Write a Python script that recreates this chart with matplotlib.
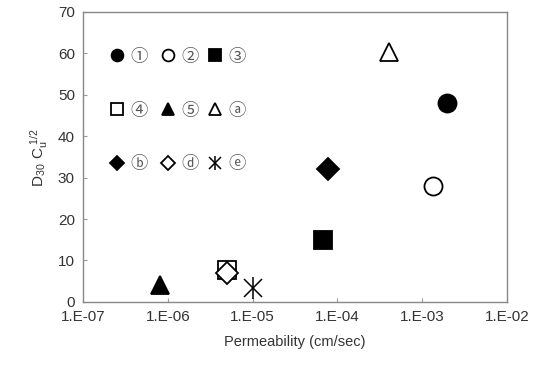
import numpy as np
import matplotlib
matplotlib.use('Agg', force=True)
import matplotlib.pyplot as plt

plt.rcParams['font.family'] = ['Liberation Sans', 'DejaVu Sans']

# permeability (cm/sec) and D30*Cu^(1/2)
labels = ['①', '②', '③', '④', '⑤', 'ⓐ', 'ⓑ', 'ⓓ', 'ⓔ']
perm = [1.95e-3, 1.35e-3, 6.8e-5, 5.0e-6, 8.1e-7, 4.0e-4, 7.8e-5, 5.0e-6, 1.0e-5]
d30cu = [48.0, 28.0, 15.0, 7.7, 4.0, 60.4, 32.1, 7.0, 3.4]
markers = ['o', 'o', 's', 's', '^', '^', 'D', 'D', 'ast']
filled = [True, False, True, False, True, False, True, False, True]

xticks = [1e-7, 1e-6, 1e-5, 1e-4, 1e-3, 1e-2]
xticklabels = ['1.E-07', '1.E-06', '1.E-05', '1.E-04', '1.E-03', '1.E-02']
yticks = [0, 10, 20, 30, 40, 50, 60, 70]

# key positions in the plot (data coords): rows of 3
key_x = [2.5e-7, 1.0e-6, 3.6e-6]
key_y = [59.5, 46.6, 33.6]

fig = plt.figure(figsize=(5.44, 3.74), dpi=100)
ax = fig.add_axes([0.153, 0.193, 0.779, 0.775])


def draw(x, y, m, f, ms):
    if m == 'ast':
        ax.plot(x, y, marker='x', color='black', ms=ms * 1.0, mew=1.1, ls='none')
        ax.plot(x, y, marker='|', color='black', ms=ms * 1.25, mew=1.1, ls='none')
    else:
        size = ms * 0.85 if m == 'D' else ms
        ax.plot(x, y, marker=m, ls='none', ms=size,
                mfc='black' if f else 'white', mec='black', mew=1.3)


for i in range(len(perm)):
    draw(perm[i], d30cu[i], markers[i], filled[i], 13)

    kx = key_x[i % 3]
    ky = key_y[i // 3]
    draw(kx, ky, markers[i], filled[i], 8.5)
    ax.text(kx * 1.45, ky - 0.4, labels[i], fontsize=12.5, color='#555555',
            va='center', ha='left', family=['Noto Sans CJK KR', 'DejaVu Sans'])

ax.set_xscale('log')
ax.set_xlim(1e-7, 1e-2)
ax.set_ylim(0, 70)
ax.set_xticks(xticks)
ax.set_xticklabels(xticklabels)
ax.minorticks_off()
ax.set_yticks(yticks)
ax.tick_params(direction='in', length=3, color='#999999', labelsize=11,
               labelcolor='#333333', pad=6)
for s in ax.spines.values():
    s.set_color('#888888')
    s.set_linewidth(1.0)

ax.set_xlabel('Permeability (cm/sec)', fontsize=10.5, color='#333333', labelpad=8)
ax.set_ylabel(r'$\mathregular{D_{30}\ C_u^{\ 1/2}}$', fontsize=11, color='#333333', labelpad=6)

fig.savefig('out.png', dpi=100)
